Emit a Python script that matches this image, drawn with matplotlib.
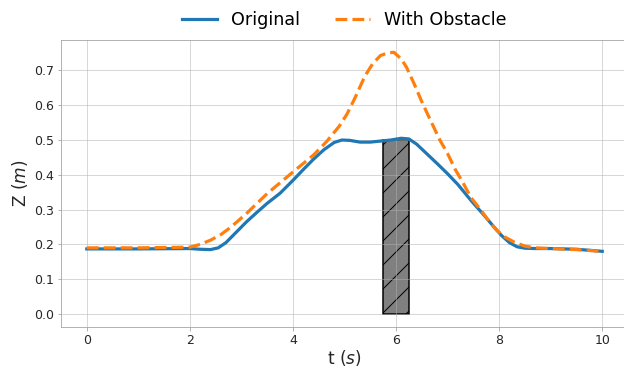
import numpy as np
import matplotlib
matplotlib.use("Agg")
import matplotlib.pyplot as plt
from matplotlib.patches import Rectangle

# Trajectory samples: time (s) and height Z (m)
t_orig = [0, 1, 2.0, 2.2, 2.4, 2.55, 2.7, 2.9, 3.1, 3.3, 3.5, 3.75, 4.0, 4.2, 4.4,
          4.6, 4.8, 4.95, 5.1, 5.3, 5.5, 5.7, 5.9, 6.1, 6.25, 6.4, 6.6, 6.8, 7.0,
          7.2, 7.45, 7.7, 7.9, 8.05, 8.2, 8.35, 8.5, 8.7, 9.0, 9.5, 10]
z_orig = [0.187, 0.187, 0.188, 0.186, 0.185, 0.19, 0.205, 0.235, 0.265, 0.292,
          0.318, 0.347, 0.384, 0.415, 0.445, 0.472, 0.493, 0.5, 0.499, 0.494,
          0.494, 0.497, 0.5, 0.505, 0.503, 0.488, 0.46, 0.432, 0.403, 0.372,
          0.327, 0.285, 0.25, 0.225, 0.205, 0.193, 0.189, 0.188, 0.188, 0.186, 0.18]

t_obst = [0, 1, 2.0, 2.2, 2.4, 2.6, 2.8, 3.1, 3.5, 4.0, 4.4, 4.65, 4.9, 5.05, 5.2,
          5.4, 5.55, 5.7, 5.85, 5.96, 6.1, 6.2, 6.35, 6.5, 6.67, 6.85, 7.0, 7.15,
          7.3, 7.45, 7.65, 7.8, 7.95, 8.1, 8.3, 8.5, 8.7, 9.0, 9.5, 10]
z_obst = [0.19, 0.19, 0.192, 0.2, 0.212, 0.228, 0.25, 0.289, 0.346, 0.408, 0.457,
          0.495, 0.54, 0.575, 0.62, 0.685, 0.72, 0.743, 0.751, 0.752, 0.733, 0.71,
          0.662, 0.61, 0.556, 0.5, 0.461, 0.415, 0.377, 0.335, 0.298, 0.267, 0.241,
          0.222, 0.206, 0.195, 0.19, 0.188, 0.185, 0.18]

# Obstacle: start time, end time, height
obstacle_t0, obstacle_t1, obstacle_h = 5.75, 6.25, 0.5

DPI = 72
plt.rcParams.update({
    "font.family": "DejaVu Sans",
    "axes.edgecolor": "#a0a0a0",
    "xtick.color": "#a0a0a0",
    "ytick.color": "#a0a0a0",
    "xtick.labelcolor": "#262626",
    "ytick.labelcolor": "#262626",
    "hatch.color": "black",
    "hatch.linewidth": 1.0,
})

fig = plt.figure(figsize=(624 / DPI, 366 / DPI), dpi=DPI)
ax = fig.add_axes([61 / 624, (366 - 327) / 366, (628 - 61) / 624, (327 - 40) / 366])

ax.grid(True, color="#b0b0b0", alpha=0.5, linewidth=1.0)

ax.plot(t_orig, z_orig, color="#1f77b4", linewidth=3.2, label="Original",
        solid_joinstyle="round", zorder=3)
ax.plot(t_obst, z_obst, color="#ff7f0e", linewidth=3.2, linestyle="--",
        label="With Obstacle", zorder=4)

ax.add_patch(Rectangle((obstacle_t0, 0), obstacle_t1 - obstacle_t0, obstacle_h,
                       facecolor="#808080", edgecolor="black", hatch="/",
                       linewidth=1.5, zorder=1))

ax.set_xlim(-0.5, 10.5)
ax.set_ylim(-0.0375, 0.7875)
ax.set_xticks([0, 2, 4, 6, 8, 10])
ax.set_yticks(np.arange(0, 0.71, 0.1))
ax.set_yticklabels([f"{v:.1f}" for v in np.arange(0, 0.71, 0.1)])
ax.tick_params(labelsize=12.5, length=3.5, pad=3.5)

ax.set_xlabel("t ($s$)", fontsize=17, color="#262626", labelpad=0.5)
ax.set_ylabel("Z ($m$)", fontsize=17, color="#262626", labelpad=4)

fig.legend(loc="upper center", bbox_to_anchor=(0.552, 1.012), ncol=2,
           frameon=False, fontsize=17.5, handlelength=2.0, columnspacing=2.0)

fig.savefig("out.png", dpi=DPI)
